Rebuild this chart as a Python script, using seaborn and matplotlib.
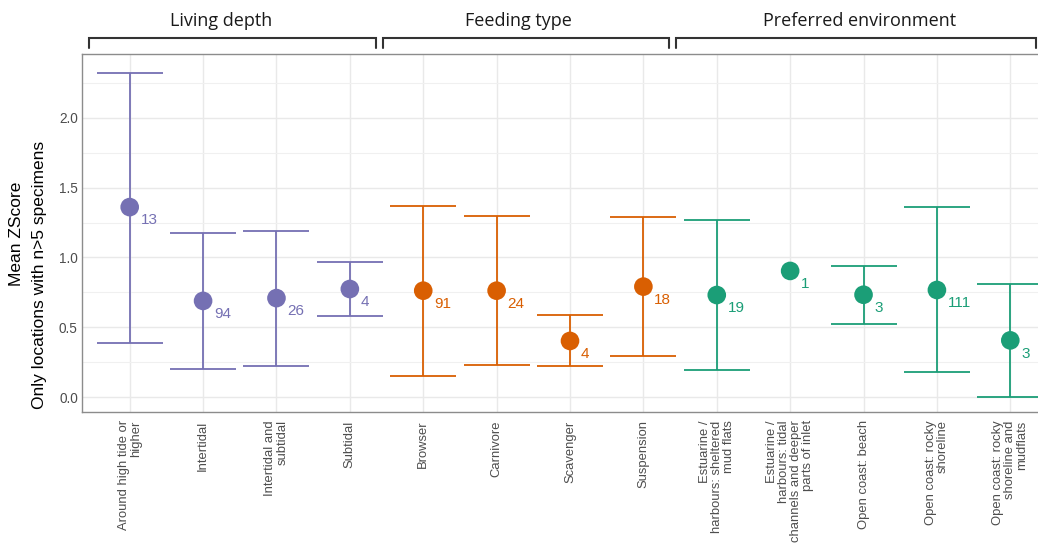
import numpy as np
import pandas as pd
import matplotlib
matplotlib.use("Agg")
import matplotlib.pyplot as plt
from matplotlib.ticker import MultipleLocator, FormatStrFormatter
from matplotlib.transforms import blended_transform_factory
import seaborn as sns

# ---- data -------------------------------------------------------------
group_names = ["Living depth", "Feeding type", "Preferred environment"]
group_colors = ["#7570b3", "#d95f02", "#1b9e77"]

categories = [
    "Around high tide or\nhigher",
    "Intertidal",
    "Intertidal and\nsubtidal",
    "Subtidal",
    "Browser",
    "Carnivore",
    "Scavenger",
    "Suspension",
    "Estuarine /\nharbours: sheltered\nmud flats",
    "Estuarine /\nharbours: tidal\nchannels and deeper\nparts of inlet",
    "Open coast: beach",
    "Open coast: rocky\nshoreline",
    "Open coast: rocky\nshoreline and\nmudflats",
]
category_group = ["Living depth"] * 4 + ["Feeding type"] * 4 + ["Preferred environment"] * 5

mean_z = [1.36, 0.69, 0.71, 0.775,
          0.763, 0.763, 0.404, 0.792,
          0.732, 0.904, 0.734, 0.768, 0.408]
lower_z = [0.39, 0.20, 0.227, 0.584,
           0.156, 0.234, 0.223, 0.296,
           0.199, np.nan, 0.523, 0.18, 0.006]
upper_z = [2.32, 1.175, 1.19, 0.97,
           1.370, 1.296, 0.587, 1.287,
           1.268, np.nan, 0.94, 1.36, 0.813]
n_locations = [13, 94, 26, 4,
               91, 24, 4, 18,
               19, 1, 3, 111, 3]

# ---- table ------------------------------------------------------------
df = pd.DataFrame({
    "category": categories,
    "group": category_group,
    "mean": mean_z,
    "lower": lower_z,
    "upper": upper_z,
    "n": n_locations,
})
df["pos"] = np.arange(len(df))
palette = dict(zip(group_names, group_colors))

# ---- figure -----------------------------------------------------------
sns.set_theme(style="whitegrid")
plt.rcParams["font.family"] = ["Liberation Sans", "DejaVu Sans"]

W, H = 1038, 543
fig = plt.figure(figsize=(W / 100, H / 100), dpi=100)
ax = fig.add_axes([82 / W, (H - 412) / H, (1058 - 82) / W, (412 - 54) / H])
ax.set_facecolor("white")
ax.set_axisbelow(True)

cap_half = 0.45
for grp, col in palette.items():
    sub = df[(df["group"] == grp) & df["lower"].notna()]
    ax.vlines(sub["pos"], sub["lower"], sub["upper"], color=col, lw=1.3, zorder=2)
    ax.hlines(sub["lower"], sub["pos"] - cap_half, sub["pos"] + cap_half, color=col, lw=1.3, zorder=2)
    ax.hlines(sub["upper"], sub["pos"] - cap_half, sub["pos"] + cap_half, color=col, lw=1.3, zorder=2)

sns.scatterplot(data=df, x="pos", y="mean", hue="group", palette=palette,
                s=180, edgecolor="none", linewidth=0, legend=False, ax=ax, zorder=3)

for _, row in df.iterrows():
    ax.annotate(str(row["n"]), (row["pos"], row["mean"]), xytext=(7.7, -9.6),
                textcoords="offset points", ha="left", va="center",
                color=palette[row["group"]], fontsize=11, zorder=4)

# ---- axes, grid -------------------------------------------------------
ax.set_xlim(-0.65, len(df) - 1 + 0.65)
ax.set_ylim(-0.1036, 2.4536)
ax.yaxis.set_major_locator(MultipleLocator(0.5))
ax.yaxis.set_minor_locator(MultipleLocator(0.25))
ax.yaxis.set_major_formatter(FormatStrFormatter("%.1f"))
ax.set_xticks(df["pos"])
ax.set_xticklabels(df["category"], rotation=90, ha="center", va="top",
                   multialignment="right", linespacing=1.02)
ax.grid(which="major", color="#e9e9e9", lw=1.0)
ax.grid(which="minor", axis="y", color="#f0f0f0", lw=0.8)
ax.tick_params(axis="x", length=0, pad=6, labelsize=9.4, labelcolor="#4d4d4d")
ax.tick_params(axis="y", which="both", length=0, pad=3, labelsize=9.8, labelcolor="#4d4d4d")
ax.set_xlabel("")
ax.set_ylabel("")
for sp in ax.spines.values():
    sp.set_color("#8c8c8c")
    sp.set_linewidth(1.0)
    sp.set_visible(True)

# y axis title, two lines
fig.text(17 / W, 1 - 234 / H, "Mean ZScore", rotation=90, ha="center", va="center",
         fontsize=12.5, color="black")
fig.text(40 / W, 1 - 275 / H, "Only locations with n>5 specimens", rotation=90,
         ha="center", va="center", fontsize=12.5, color="black")

# ---- group brackets and headings ---------------------------------------
trans = blended_transform_factory(ax.transData, ax.transAxes)
y_top, y_tick = 1.0455, 1.0176
for grp in group_names:
    pos = df.loc[df["group"] == grp, "pos"]
    x0, x1 = pos.min() - 0.55, pos.max() + 0.35
    ax.plot([x0, x0, x1, x1], [y_tick, y_top, y_top, y_tick], transform=trans,
            color="#333333", lw=1.5, clip_on=False, solid_joinstyle="miter")

heading_x = {"Living depth": 221.5, "Feeding type": 518.5, "Preferred environment": 859.5}
for grp in group_names:
    fig.text(heading_x[grp] / W, 1 - 26.5 / H, grp, ha="center", va="baseline",
             fontsize=13, color="#1a1a1a", family=["Open Sans", "DejaVu Sans"])

fig.savefig("out.png", dpi=100, facecolor="white")
